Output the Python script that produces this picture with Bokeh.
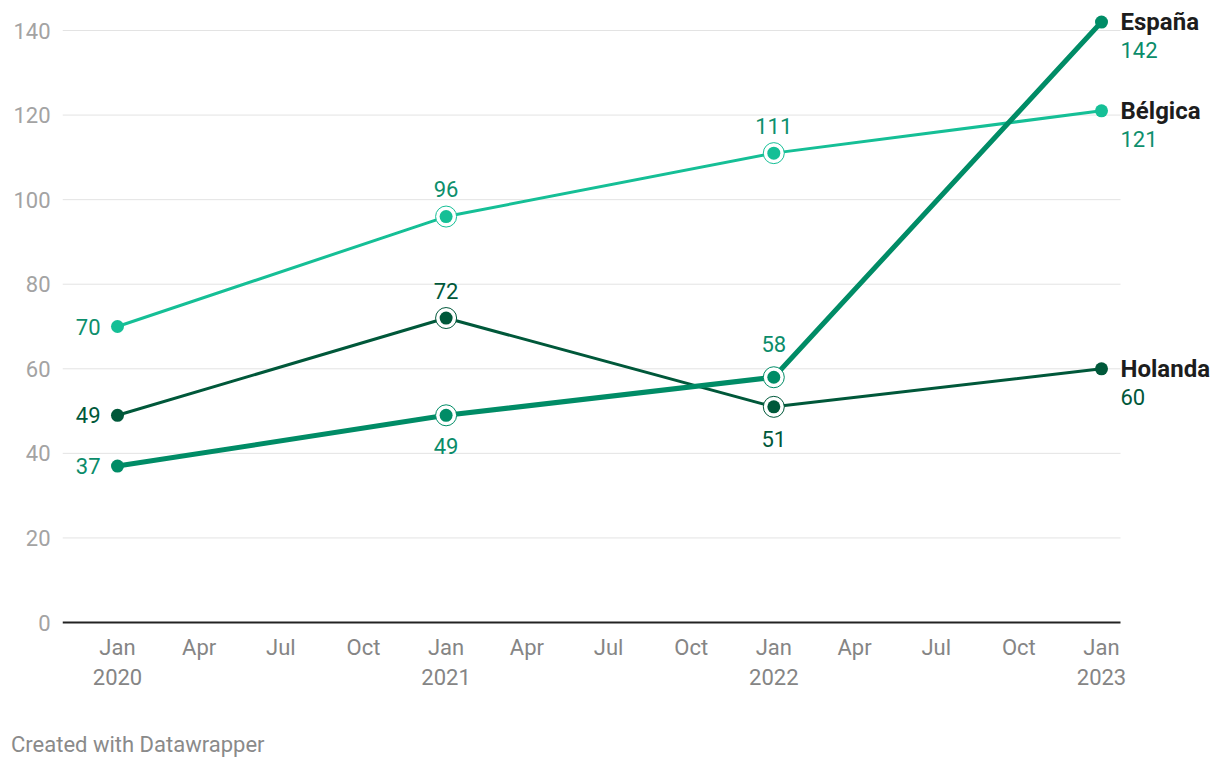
import pandas as pd
from bokeh.plotting import figure
from bokeh.layouts import column
from bokeh.models import Range1d, LinearAxis, FixedTicker, Div
from bokeh.embed import file_html
from bokeh.resources import INLINE
from bokeh.core.properties import value

# ---------------- data ----------------
dates = ["2020-01-01", "2021-01-01", "2022-01-01", "2023-01-01"]
espana = [37, 49, 58, 142]
belgica = [70, 96, 111, 121]
holanda = [49, 72, 51, 60]
series_names = ["España", "Bélgica", "Holanda"]

y_ticks = [0, 20, 40, 60, 80, 100, 120, 140]
x_tick_dates = ["2020-01-01", "2020-04-01", "2020-07-01", "2020-10-01",
                "2021-01-01", "2021-04-01", "2021-07-01", "2021-10-01",
                "2022-01-01", "2022-04-01", "2022-07-01", "2022-10-01",
                "2023-01-01"]
x_tick_labels = ["Jan", "Apr", "Jul", "Oct", "Jan", "Apr", "Jul", "Oct",
                 "Jan", "Apr", "Jul", "Oct", "Jan"]
year_tick_dates = ["2020-01-01", "2021-01-01", "2022-01-01", "2023-01-01"]
year_labels = ["2020", "2021", "2022", "2023"]
credit_text = "Created with Datawrapper"

# ---------------- helpers ----------------
base = pd.Timestamp(dates[0])


def to_days(ds):
    return [(pd.Timestamp(d) - base).days for d in ds]


x = to_days(dates)
xt = to_days(x_tick_dates)
yt = to_days(year_tick_dates)

FONT = "Roboto"
W, H = 1220, 700
PX_DAY = 984 / 1096.0
PX_UNIT = 592 / 140.0
FRAME_LEFT = 62
FIRST_X = 117
FRAME_BOTTOM = 624
x_start = -(FIRST_X - FRAME_LEFT) / PX_DAY
x_end = (W - FIRST_X) / PX_DAY
x_grid_end = (1120 - FIRST_X) / PX_DAY
y_start = -2 / PX_UNIT
y_end = y_start + FRAME_BOTTOM / PX_UNIT

p = figure(width=W, height=H, output_backend="svg", toolbar_location=None,
           x_range=Range1d(x_start, x_end), y_range=Range1d(y_start, y_end),
           x_axis_type=None, min_border_left=FRAME_LEFT, min_border_right=0,
           min_border_top=0, min_border_bottom=H - FRAME_BOTTOM)
p.outline_line_color = None
p.background_fill_color = "white"
p.border_fill_color = "white"
p.grid.visible = False

# y axis
ya = p.yaxis[0]
ya.ticker = FixedTicker(ticks=y_ticks)
ya.axis_line_color = None
ya.major_tick_line_color = None
ya.minor_tick_line_color = None
ya.major_tick_out = 0
ya.major_tick_in = 0
ya.major_label_standoff = 12
ya.major_label_text_font = FONT
ya.major_label_text_font_size = "22px"
ya.major_label_text_color = "#a3a3a3"

# x axes
def make_xaxis(ticks, labels, standoff):
    ax = LinearAxis(ticker=FixedTicker(ticks=ticks),
                    major_label_overrides={t: l for t, l in zip(ticks, labels)})
    ax.axis_line_color = None
    ax.major_tick_line_color = None
    ax.minor_tick_line_color = None
    ax.major_tick_out = 0
    ax.major_tick_in = 0
    ax.major_label_standoff = standoff
    ax.major_label_text_font = FONT
    ax.major_label_text_font_size = "22px"
    ax.major_label_text_color = "#858585"
    return ax


p.add_layout(make_xaxis(xt, x_tick_labels, 10), "below")
p.add_layout(make_xaxis(yt, year_labels, 6), "below")

# gridlines + baseline
gy = [t for t in y_ticks if t != 0]
p.segment(x0=[x_start] * len(gy), x1=[x_grid_end] * len(gy), y0=gy, y1=gy,
          line_color="#e3e3e3", line_width=1)
p.segment(x0=[x_start], x1=[x_grid_end], y0=[0], y1=[0],
          line_color="#222222", line_width=2)

styles = {
    "Bélgica": dict(vals=belgica, line="#15bf96", label="#0d8f6c", lw=3,
                    offs=[("left", 0), ("above", -28), ("above", -27), ("right", 0)]),
    "Holanda": dict(vals=holanda, line="#00583a", label="#00583a", lw=3,
                    offs=[("left", 0), ("above", -27), ("below", 32), ("right", 0)]),
    "España": dict(vals=espana, line="#008c66", label="#0a8c6a", lw=5,
                   offs=[("left", 0), ("below", 31), ("above", -33), ("right", 0)]),
}

for name in ["Bélgica", "Holanda", "España"]:
    s = styles[name]
    vals = s["vals"]
    p.line(x, vals, line_color=s["line"], line_width=s["lw"])
    # rings on middle points
    p.scatter(x[1:3], vals[1:3], size=21, fill_color="white",
              line_color=s["line"], line_width=1)
    p.scatter(x, vals, size=13, fill_color=s["line"], line_color=None)

for name in ["Bélgica", "Holanda", "España"]:
    s = styles[name]
    vals = s["vals"]
    for i, (pos, off) in enumerate(s["offs"]):
        txt = str(vals[i])
        if pos == "left":
            p.text([x[i]], [vals[i]], text=[txt], x_offset=-17, y_offset=0,
                   text_align="right", text_baseline="middle",
                   text_font=value(FONT), text_font_size="22px",
                   text_color=s["label"])
        elif pos in ("above", "below"):
            p.text([x[i]], [vals[i]], text=[txt], x_offset=0, y_offset=off,
                   text_align="center", text_baseline="middle",
                   text_font=value(FONT), text_font_size="22px",
                   text_color=s["label"])
        else:
            p.text([x[i]], [vals[i]], text=[name], x_offset=19, y_offset=0,
                   text_align="left", text_baseline="middle",
                   text_font=value(FONT), text_font_size="24px",
                   text_font_style="bold", text_color="#1d1d1d")
            p.text([x[i]], [vals[i]], text=[txt], x_offset=19, y_offset=28,
                   text_align="left", text_baseline="middle",
                   text_font=value(FONT), text_font_size="22px",
                   text_color=s["label"])

credit = Div(text=credit_text, width=W - 11, height=36, margin=(32, 0, 0, 11),
             styles={"font-family": FONT, "font-size": "22px",
                     "color": "#8a8a8a", "line-height": "26px"})

layout = column(p, credit, spacing=0)
open("out.html", "w").write(file_html(layout, INLINE))
